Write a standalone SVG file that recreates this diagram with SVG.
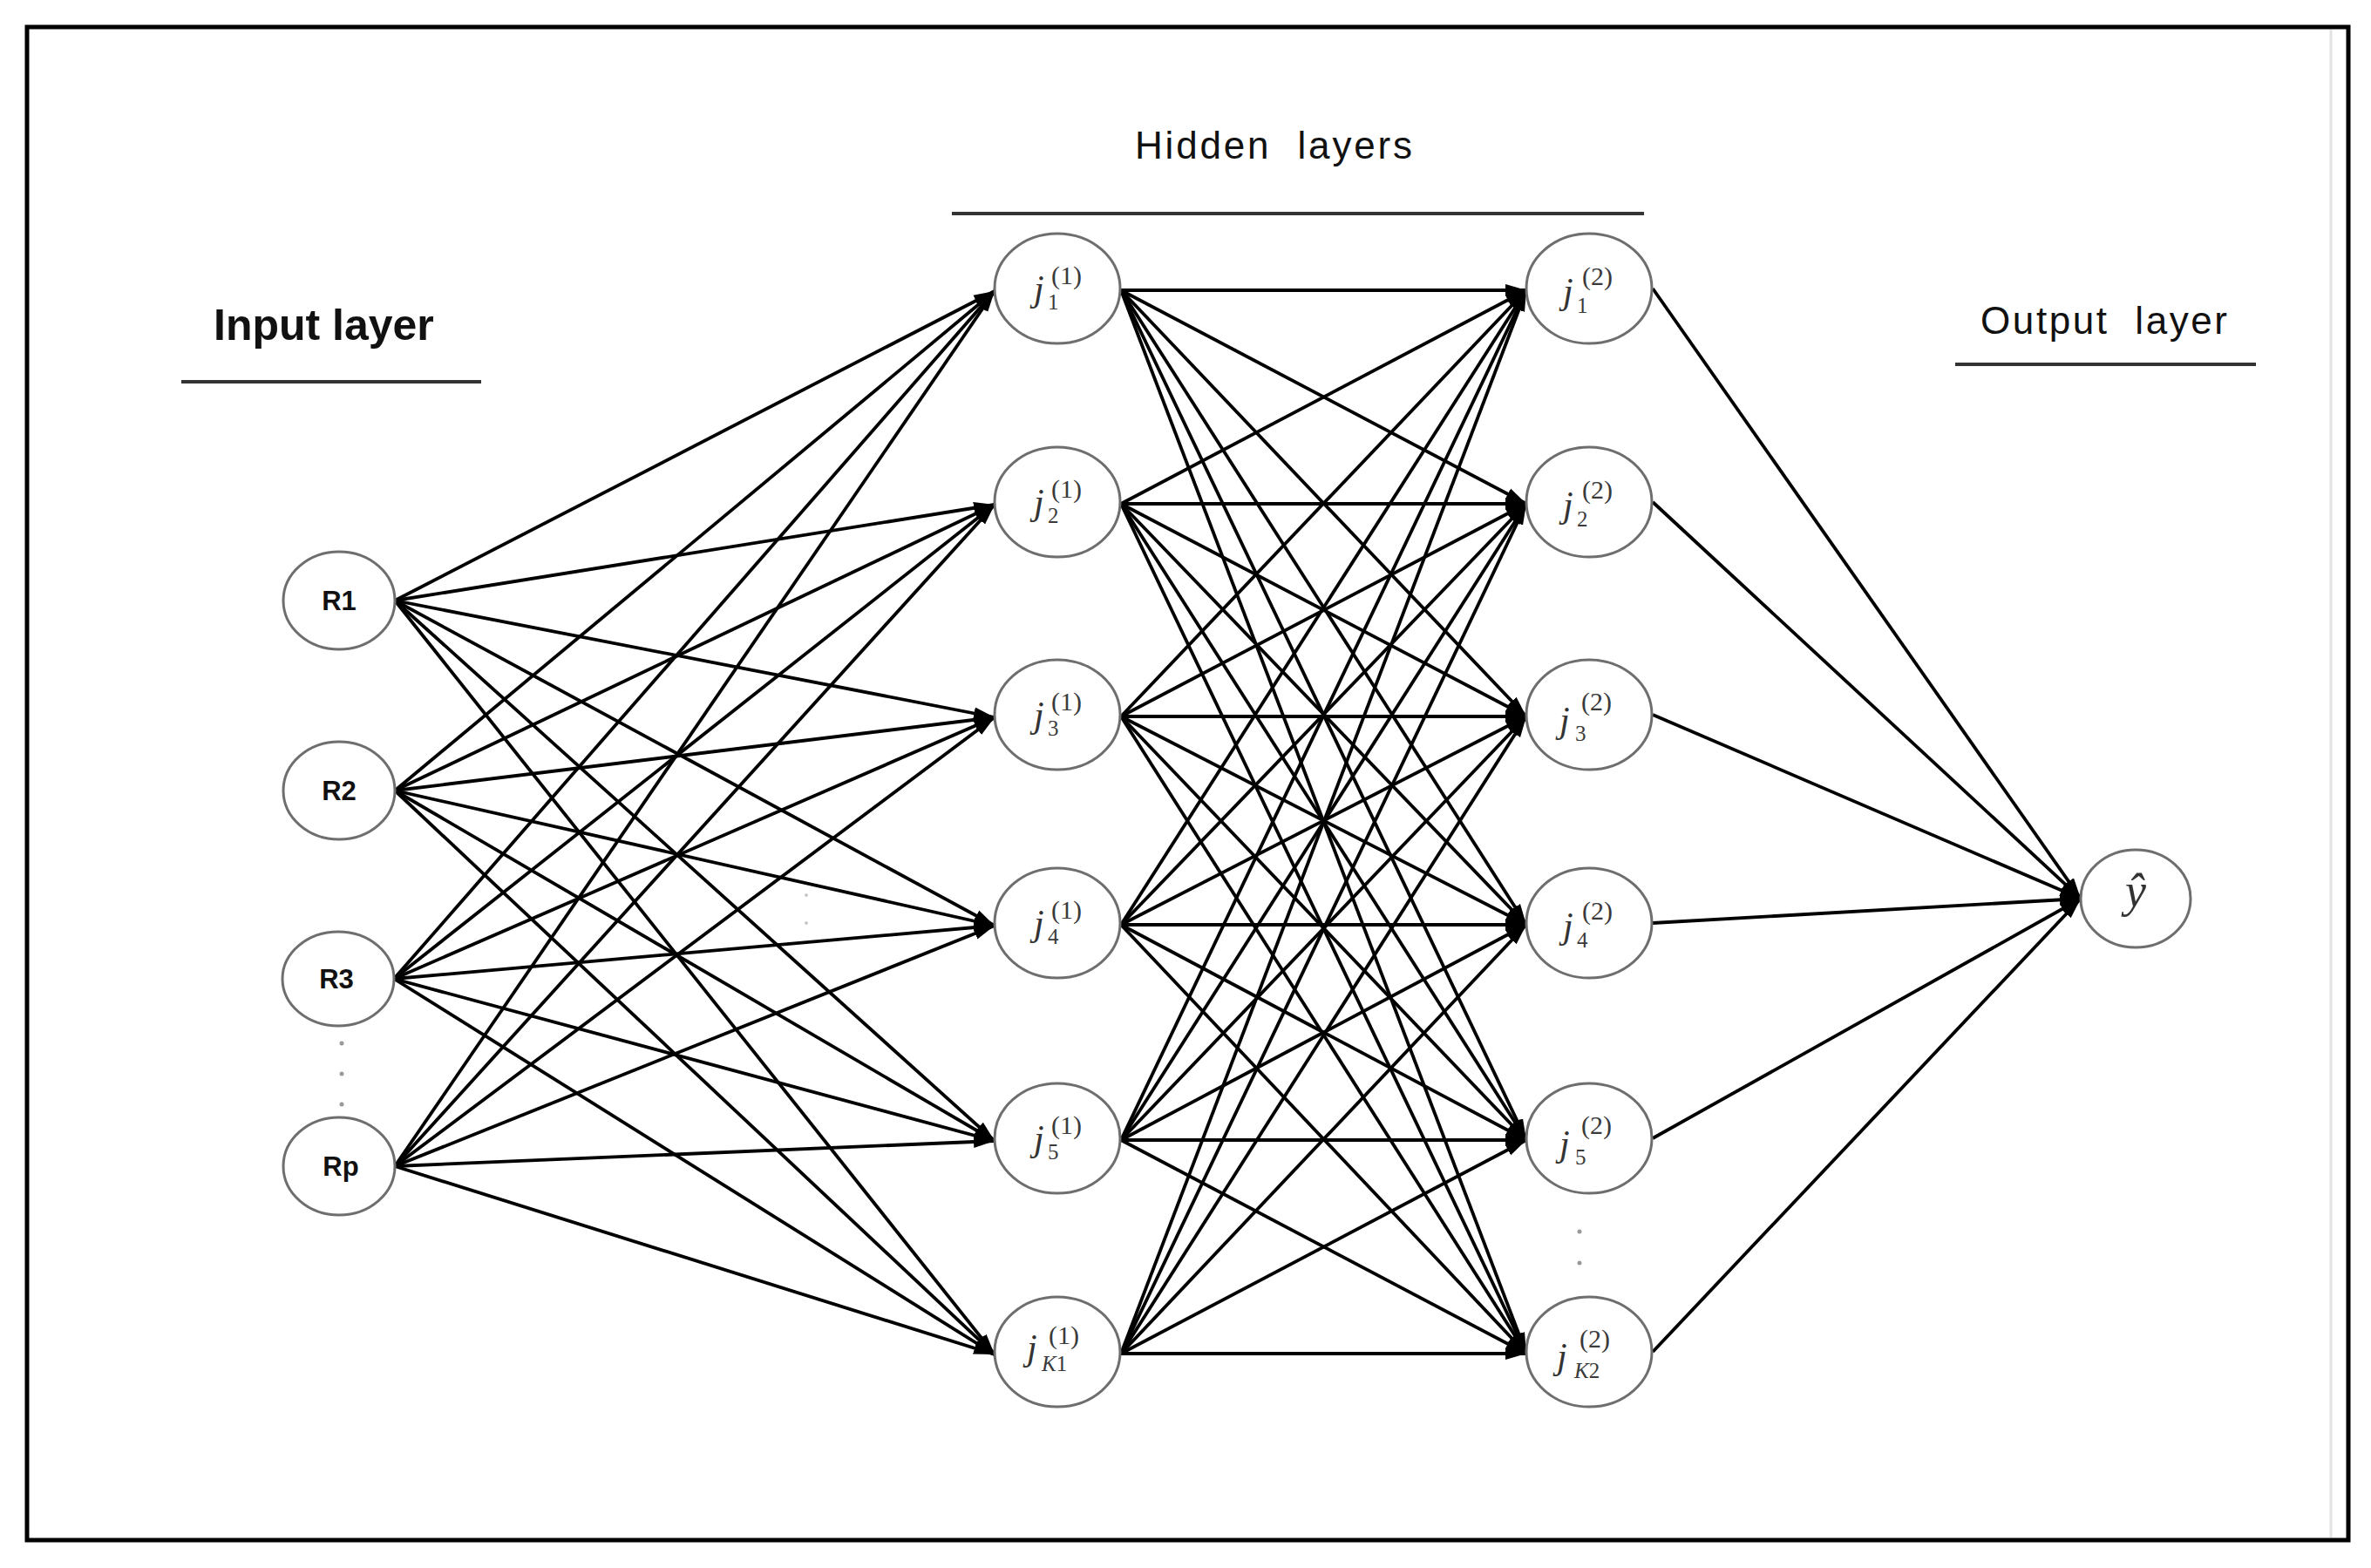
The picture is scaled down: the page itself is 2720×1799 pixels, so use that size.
<svg xmlns="http://www.w3.org/2000/svg" width="2720" height="1799" viewBox="0 0 2720 1799">
<defs>
<style>
.edge{stroke:#000;stroke-width:3.8;fill:none}
.arr{marker-end:url(#ah)}
.node{fill:#fff;stroke:#6e6e6e;stroke-width:3}
.title{font-family:"Liberation Sans",Arial,sans-serif;fill:#111}
.rl{font-family:"Liberation Sans",Arial,sans-serif;font-weight:bold;font-size:31px;fill:#111;text-anchor:middle}
.j{font-family:"Liberation Serif","DejaVu Serif",serif;font-style:italic;font-size:42px;fill:#333}
.sup{font-family:"Liberation Serif","DejaVu Serif",serif;font-size:30px;fill:#3a3a3a}
.sub{font-family:"Liberation Serif","DejaVu Serif",serif;font-size:25px;fill:#3a3a3a}
.it{font-style:italic}
.rule{stroke:#333;stroke-width:4}
.dot{fill:#999}
</style>
<marker id="ah" markerUnits="userSpaceOnUse" markerWidth="26" markerHeight="16" refX="24" refY="8" orient="auto">
<path d="M0,1 L24,8 L0,15 z" fill="#000"/>
</marker>
</defs>
<rect x="0" y="0" width="2720" height="1799" fill="#fff"/>
<rect x="31" y="31" width="2663" height="1736" fill="none" stroke="#000" stroke-width="5"/>
<line x1="2674" y1="34" x2="2674" y2="1764" stroke="#e2e2e2" stroke-width="3"/>

<g id="titles">
<text class="title" x="245" y="390" font-size="50" font-weight="bold">Input layer</text>
<line class="rule" x1="208" y1="438" x2="552" y2="438"/>
<text class="title" x="1302" y="182" font-size="44" textLength="318" lengthAdjust="spacing" xml:space="preserve">Hidden  layers</text>
<line class="rule" x1="1092" y1="245" x2="1886" y2="245"/>
<text class="title" x="2272" y="383" font-size="44" textLength="283" lengthAdjust="spacing" xml:space="preserve">Output  layer</text>
<line class="rule" x1="2243" y1="418" x2="2588" y2="418"/>
</g>

<g id="connectors">
<g class="edge arr">
<line x1="453" y1="689" x2="1141" y2="334"/>
<line x1="453" y1="689" x2="1141" y2="579"/>
<line x1="453" y1="689" x2="1141" y2="823"/>
<line x1="453" y1="689" x2="1141" y2="1062"/>
<line x1="453" y1="689" x2="1141" y2="1309"/>
<line x1="453" y1="689" x2="1141" y2="1554"/>
<line x1="453" y1="907" x2="1141" y2="334"/>
<line x1="453" y1="907" x2="1141" y2="579"/>
<line x1="453" y1="907" x2="1141" y2="823"/>
<line x1="453" y1="907" x2="1141" y2="1062"/>
<line x1="453" y1="907" x2="1141" y2="1309"/>
<line x1="453" y1="907" x2="1141" y2="1554"/>
<line x1="452" y1="1123" x2="1141" y2="334"/>
<line x1="452" y1="1123" x2="1141" y2="579"/>
<line x1="452" y1="1123" x2="1141" y2="823"/>
<line x1="452" y1="1123" x2="1141" y2="1062"/>
<line x1="452" y1="1123" x2="1141" y2="1309"/>
<line x1="452" y1="1123" x2="1141" y2="1554"/>
<line x1="453" y1="1338" x2="1141" y2="334"/>
<line x1="453" y1="1338" x2="1141" y2="579"/>
<line x1="453" y1="1338" x2="1141" y2="823"/>
<line x1="453" y1="1338" x2="1141" y2="1062"/>
<line x1="453" y1="1338" x2="1141" y2="1309"/>
<line x1="453" y1="1338" x2="1141" y2="1554"/>

<line x1="1286" y1="333" x2="1751" y2="333"/>
<line x1="1286" y1="333" x2="1751" y2="578"/>
<line x1="1286" y1="333" x2="1751" y2="822"/>
<line x1="1286" y1="333" x2="1751" y2="1061"/>
<line x1="1286" y1="333" x2="1751" y2="1308"/>
<line x1="1286" y1="333" x2="1751" y2="1553"/>
<line x1="1286" y1="578" x2="1751" y2="333"/>
<line x1="1286" y1="578" x2="1751" y2="578"/>
<line x1="1286" y1="578" x2="1751" y2="822"/>
<line x1="1286" y1="578" x2="1751" y2="1061"/>
<line x1="1286" y1="578" x2="1751" y2="1308"/>
<line x1="1286" y1="578" x2="1751" y2="1553"/>
<line x1="1286" y1="822" x2="1751" y2="333"/>
<line x1="1286" y1="822" x2="1751" y2="578"/>
<line x1="1286" y1="822" x2="1751" y2="822"/>
<line x1="1286" y1="822" x2="1751" y2="1061"/>
<line x1="1286" y1="822" x2="1751" y2="1308"/>
<line x1="1286" y1="822" x2="1751" y2="1553"/>
<line x1="1286" y1="1061" x2="1751" y2="333"/>
<line x1="1286" y1="1061" x2="1751" y2="578"/>
<line x1="1286" y1="1061" x2="1751" y2="822"/>
<line x1="1286" y1="1061" x2="1751" y2="1061"/>
<line x1="1286" y1="1061" x2="1751" y2="1308"/>
<line x1="1286" y1="1061" x2="1751" y2="1553"/>
<line x1="1286" y1="1308" x2="1751" y2="333"/>
<line x1="1286" y1="1308" x2="1751" y2="578"/>
<line x1="1286" y1="1308" x2="1751" y2="822"/>
<line x1="1286" y1="1308" x2="1751" y2="1061"/>
<line x1="1286" y1="1308" x2="1751" y2="1308"/>
<line x1="1286" y1="1308" x2="1751" y2="1553"/>
<line x1="1286" y1="1553" x2="1751" y2="333"/>
<line x1="1286" y1="1553" x2="1751" y2="578"/>
<line x1="1286" y1="1553" x2="1751" y2="822"/>
<line x1="1286" y1="1553" x2="1751" y2="1061"/>
<line x1="1286" y1="1553" x2="1751" y2="1308"/>
<line x1="1286" y1="1553" x2="1751" y2="1553"/>

<line x1="1896" y1="331" x2="2387" y2="1031"/>
<line x1="1896" y1="576" x2="2387" y2="1031"/>
<line x1="1896" y1="820" x2="2387" y2="1031"/>
<line x1="1896" y1="1059" x2="2387" y2="1031"/>
<line x1="1896" y1="1306" x2="2387" y2="1031"/>
<line x1="1896" y1="1551" x2="2387" y2="1031"/>
</g>
</g>

<g id="dots">
<circle class="dot" cx="392" cy="1197" r="2.5"/>
<circle class="dot" cx="392" cy="1232" r="2.5"/>
<circle class="dot" cx="392" cy="1267" r="2.5"/>
<circle class="dot" cx="1812" cy="1413" r="2.5"/>
<circle class="dot" cx="1812" cy="1449" r="2.5"/>
<circle cx="925" cy="1027" r="2" fill="#c8c8c8"/>
<circle cx="925" cy="1059" r="2" fill="#c8c8c8"/>
</g>

<g id="R1"><ellipse class="node" cx="389" cy="689" rx="64" ry="56"/><text class="rl" x="389" y="700">R1</text></g>
<g id="R2"><ellipse class="node" cx="389" cy="907" rx="64" ry="56"/><text class="rl" x="389" y="918">R2</text></g>
<g id="R3"><ellipse class="node" cx="388" cy="1123" rx="64" ry="54"/><text class="rl" x="386" y="1134">R3</text></g>
<g id="Rp"><ellipse class="node" cx="389" cy="1338" rx="64" ry="56"/><text class="rl" x="391" y="1349">Rp</text></g>

<g id="h1_1"><ellipse class="node" cx="1213" cy="331" rx="72" ry="63"/>
<text><tspan class="j" x="1186" y="345">j</tspan><tspan class="sup" x="1206" y="326">(1)</tspan><tspan class="sub" x="1202" y="355">1</tspan></text></g>
<g id="h1_2"><ellipse class="node" cx="1213" cy="576" rx="72" ry="63"/>
<text><tspan class="j" x="1186" y="590">j</tspan><tspan class="sup" x="1206" y="571">(1)</tspan><tspan class="sub" x="1202" y="600">2</tspan></text></g>
<g id="h1_3"><ellipse class="node" cx="1213" cy="820" rx="72" ry="63"/>
<text><tspan class="j" x="1186" y="834">j</tspan><tspan class="sup" x="1206" y="815">(1)</tspan><tspan class="sub" x="1202" y="844">3</tspan></text></g>
<g id="h1_4"><ellipse class="node" cx="1213" cy="1059" rx="72" ry="63"/>
<text><tspan class="j" x="1186" y="1073">j</tspan><tspan class="sup" x="1206" y="1054">(1)</tspan><tspan class="sub" x="1202" y="1083">4</tspan></text></g>
<g id="h1_5"><ellipse class="node" cx="1213" cy="1306" rx="72" ry="63"/>
<text><tspan class="j" x="1186" y="1320">j</tspan><tspan class="sup" x="1206" y="1301">(1)</tspan><tspan class="sub" x="1202" y="1330">5</tspan></text></g>
<g id="h1_K1"><ellipse class="node" cx="1213" cy="1551" rx="72" ry="63"/>
<text><tspan class="j" x="1178" y="1560">j</tspan><tspan class="sup" x="1203" y="1542">(1)</tspan><tspan class="sub it" x="1195" y="1573">K</tspan><tspan class="sub">1</tspan></text></g>

<g id="h2_1"><ellipse class="node" cx="1823" cy="331" rx="72" ry="63"/>
<text><tspan class="j" x="1793" y="348">j</tspan><tspan class="sup" x="1815" y="327">(2)</tspan><tspan class="sub" x="1809" y="359">1</tspan></text></g>
<g id="h2_2"><ellipse class="node" cx="1823" cy="576" rx="72" ry="63"/>
<text><tspan class="j" x="1793" y="593">j</tspan><tspan class="sup" x="1815" y="572">(2)</tspan><tspan class="sub" x="1809" y="604">2</tspan></text></g>
<g id="h2_3"><ellipse class="node" cx="1823" cy="820" rx="72" ry="63"/>
<text><tspan class="j" x="1789" y="840" font-size="48">j</tspan><tspan class="sup" x="1814" y="815" font-size="33">(2)</tspan><tspan class="sub" x="1807" y="850" font-size="27">3</tspan></text></g>
<g id="h2_4"><ellipse class="node" cx="1823" cy="1059" rx="72" ry="63"/>
<text><tspan class="j" x="1793" y="1076">j</tspan><tspan class="sup" x="1815" y="1055">(2)</tspan><tspan class="sub" x="1809" y="1087">4</tspan></text></g>
<g id="h2_5"><ellipse class="node" cx="1823" cy="1306" rx="72" ry="63"/>
<text><tspan class="j" x="1789" y="1326" font-size="48">j</tspan><tspan class="sup" x="1814" y="1301" font-size="33">(2)</tspan><tspan class="sub" x="1807" y="1336" font-size="27">5</tspan></text></g>
<g id="h2_K2"><ellipse class="node" cx="1823" cy="1551" rx="72" ry="63"/>
<text><tspan class="j" x="1786" y="1570">j</tspan><tspan class="sup" x="1812" y="1546">(2)</tspan><tspan class="sub it" x="1806" y="1581">K</tspan><tspan class="sub">2</tspan></text></g>

<g id="out"><ellipse class="node" cx="2450" cy="1031" rx="63" ry="56"/>
<text x="2450" y="1040" text-anchor="middle" font-family="Liberation Serif, DejaVu Serif, serif" font-style="italic" font-size="54" fill="#333">ŷ</text></g>
</svg>
